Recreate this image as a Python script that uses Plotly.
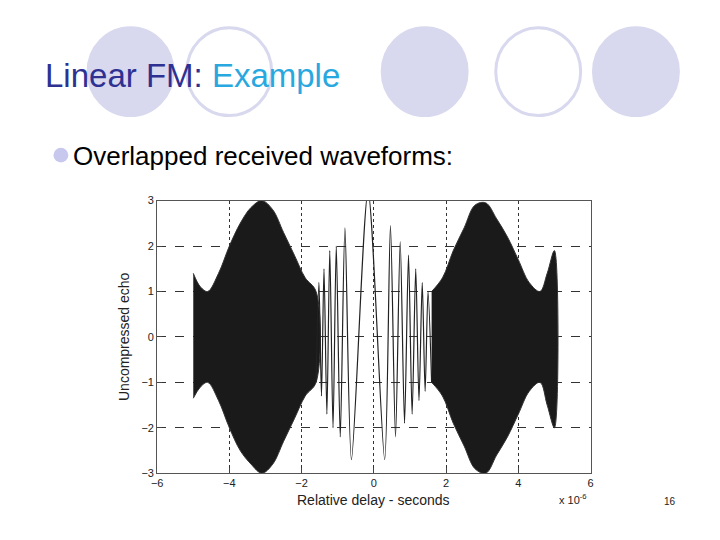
import plotly.graph_objects as go

# Envelope of dense chirp regions (x in microseconds)
left_x = [-5.0, -4.8, -4.6, -4.3, -4.0, -3.7, -3.4, -3.1, -2.8, -2.5, -2.2, -1.9, -1.6]
left_up = [1.4, 1.1, 1.0, 1.4, 2.0, 2.5, 2.85, 3.0, 2.8, 2.3, 1.8, 1.3, 1.0]
left_lo = [-1.35, -1.1, -1.0, -1.4, -2.0, -2.5, -2.8, -3.0, -2.8, -2.3, -1.8, -1.3, -1.0]
right_x = [1.6, 1.9, 2.2, 2.5, 2.8, 3.1, 3.4, 3.7, 4.0, 4.3, 4.6, 4.8, 5.0]
right_up = [1.0, 1.3, 1.9, 2.4, 2.9, 2.95, 2.6, 2.2, 1.7, 1.2, 1.0, 1.4, 1.9]
right_lo = [-1.0, -1.3, -1.9, -2.4, -2.9, -3.0, -2.6, -2.2, -1.7, -1.2, -1.0, -1.5, -2.0]
# Central oscillation peaks
mid_x = [-1.6, -1.52, -1.45, -1.38, -1.3, -1.22, -1.13, -1.04, -0.93, -0.8, -0.62, -0.16,
         0.3, 0.46, 0.6, 0.73, 0.85, 0.96, 1.06, 1.16, 1.25, 1.34, 1.42, 1.5, 1.6]
mid_y = [-1.0, 1.2, -1.3, 1.5, -1.7, 1.9, -2.0, 2.0, -2.2, 2.4, -2.7, 3.2, -2.7, 2.45,
         -2.2, 2.1, -1.9, 1.8, -1.7, 1.5, -1.4, 1.2, -1.2, 1.0, -1.0]
x_ticks = [-6, -4, -2, 0, 2, 4, 6]
y_ticks = [-3, -2, -1, 0, 1, 2, 3]

W, H, OFF = 704, 524, 8
def px(x): return (x - OFF) / W
def py(y): return 1 - (y - OFF) / H

fig = go.Figure()
for xs, up, lo in [(left_x, left_up, left_lo), (right_x, right_up, right_lo)]:
    fig.add_trace(go.Scatter(x=xs + xs[::-1], y=up + lo[::-1], fill="toself",
                             fillcolor="#1a1a1a", line=dict(color="#333333", width=1, shape="spline"),
                             mode="lines", hoverinfo="skip"))
fig.add_trace(go.Scatter(x=mid_x, y=mid_y, mode="lines",
                         line=dict(color="#222222", width=1.2, shape="spline", smoothing=0.8)))

axis_common = dict(showgrid=True, gridcolor="#333333", gridwidth=1,
                   showline=True, linecolor="#555555", mirror=True, zeroline=False,
                   ticks="inside", tickfont=dict(family="Liberation Sans", size=11, color="#222"))
fig.update_xaxes(range=[-6, 6], tickvals=x_ticks, domain=[px(153), px(592)], griddash="dot", **axis_common)
fig.update_yaxes(range=[-3, 3], tickvals=y_ticks, domain=[py(478), py(199)], griddash="dash", **axis_common)

shapes = []
for cx, filled in [(126, True), (226, False), (424, True), (539, False), (638, True)]:
    shapes.append(dict(type="circle", xref="paper", yref="paper", layer="below",
                       x0=px(cx - 43), x1=px(cx + 43), y0=py(112), y1=py(22),
                       fillcolor="#D8D8EE" if filled else "rgba(0,0,0,0)",
                       line=dict(color="#D8D8EE", width=3)))
shapes.append(dict(type="circle", xref="paper", yref="paper",
                   x0=px(48), x1=px(63), y0=py(160), y1=py(145),
                   fillcolor="#C8C8EE", line=dict(width=0)))

ann = [
    dict(x=px(37), y=py(71), xanchor="left", yanchor="middle",
         text="<span style='color:#2E3192'>Linear FM: </span><span style='color:#29A8DF'>Example</span>",
         font=dict(family="Liberation Sans", size=33)),
    dict(x=px(66), y=py(153), xanchor="left", yanchor="middle",
         text="Overlapped received waveforms:", font=dict(family="Liberation Sans", size=26, color="black")),
    dict(x=px(120), y=py(338), textangle=-90, xanchor="center", yanchor="middle",
         text="Uncompressed echo", font=dict(family="Liberation Sans", size=14, color="#222")),
    dict(x=px(372), y=py(505), xanchor="center", yanchor="middle",
         text="Relative delay - seconds", font=dict(family="Liberation Sans", size=14, color="#222")),
    dict(x=px(558), y=py(504), xanchor="left", yanchor="middle",
         text="x 10<sup>-6</sup>", font=dict(family="Liberation Sans", size=11, color="#222")),
    dict(x=px(672), y=py(507), xanchor="center", yanchor="middle",
         text="16", font=dict(family="Liberation Sans", size=10, color="#222")),
]
for a in ann:
    a.update(xref="paper", yref="paper", showarrow=False)

fig.update_layout(width=W, height=H, margin=dict(l=0, r=0, t=0, b=0),
                  paper_bgcolor="white", plot_bgcolor="white", showlegend=False,
                  shapes=shapes, annotations=ann)
fig.write_html("out.html")
